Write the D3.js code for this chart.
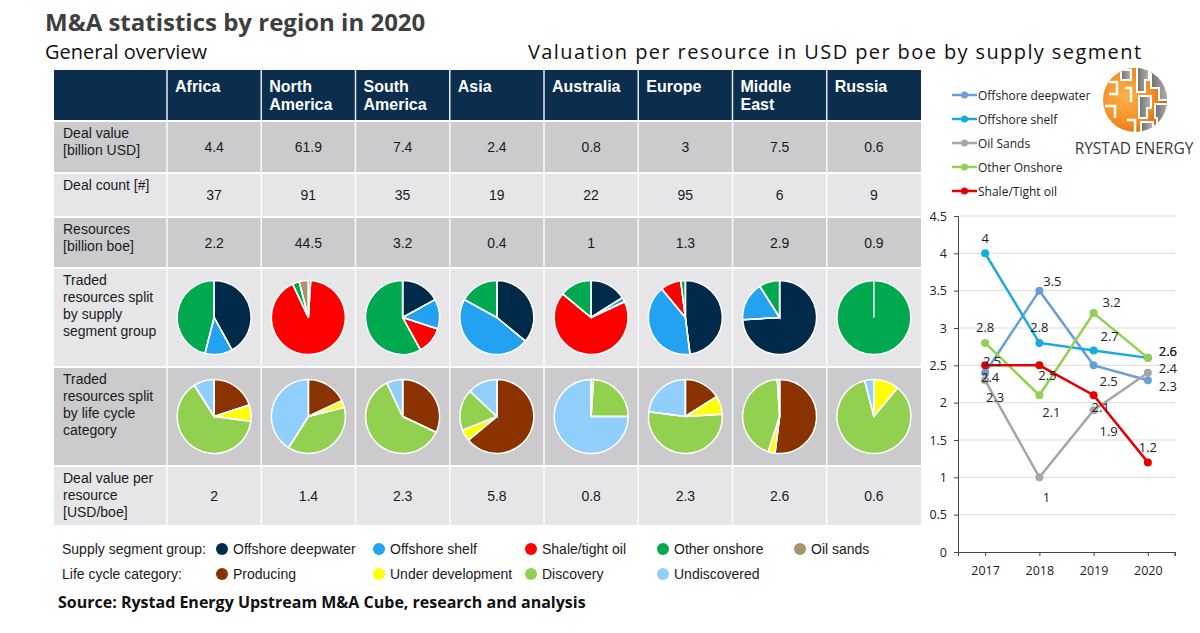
<!DOCTYPE html>
<html>
<head>
<meta charset="utf-8">
<script src="https://cdn.jsdelivr.net/npm/d3@7"></script>
<style>
  body { margin: 0; background: #fff; }
  svg { display: block; }
</style>
</head>
<body>
<div id="chart"></div>
<script>
// table data
const regions = ["Africa", "North America", "South America", "Asia", "Australia", "Europe", "Middle East", "Russia"];
const dealValue = [4.4, 61.9, 7.4, 2.4, 0.8, 3, 7.5, 0.6];
const dealCount = [37, 91, 35, 19, 22, 95, 6, 9];
const resources = [2.2, 44.5, 3.2, 0.4, 1, 1.3, 2.9, 0.9];
const valuePerResource = [2, 1.4, 2.3, 5.8, 0.8, 2.3, 2.6, 0.6];

// pie splits (% of traded resources), order follows the legend
const segmentGroups = ["Offshore deepwater", "Offshore shelf", "Shale/tight oil", "Other onshore", "Oil sands"];
const segmentSplit = [
  [42, 12, 0, 46, 0],
  [1, 0, 92, 3, 4],
  [17, 13, 12, 58, 0],
  [36, 47, 0, 17, 0],
  [16, 2, 68, 14, 0],
  [48, 41, 9, 2, 0],
  [74, 17, 0, 9, 0],
  [0, 0, 0, 100, 0]
];
const lifeCycle = ["Producing", "Under development", "Discovery", "Undiscovered"];
const lifeCycleSplit = [
  [20, 7, 64, 9],
  [18, 3, 38, 41],
  [32, 0, 61, 7],
  [64, 5, 18, 13],
  [1, 0, 24, 75],
  [16, 8, 53, 23],
  [52, 3, 44, 1],
  [0, 11, 85, 4]
];

// line chart data: USD per boe
const years = ["2017", "2018", "2019", "2020"];
const seriesNames = ["Offshore deepwater", "Offshore shelf", "Oil Sands", "Other Onshore", "Shale/Tight oil"];
const offshoreDeepwater = [2.4, 3.5, 2.5, 2.3];
const offshoreShelf = [4, 2.8, 2.7, 2.6];
const oilSands = [2.3, 1, 1.9, 2.4];
const otherOnshore = [2.8, 2.1, 3.2, 2.6];
const shaleTight = [2.5, 2.5, 2.1, 1.2];
const yTicks = [0, 0.5, 1, 1.5, 2, 2.5, 3, 3.5, 4, 4.5];

// ---------- styling ----------
const segColors = ["#002a4a", "#22a2f0", "#ff0000", "#00a84f", "#a89467"];
const lifeColors = ["#8b3300", "#ffff00", "#92d050", "#90cffc"];
const lineColors = ["#6a9fd6", "#16aae2", "#a6a6a6", "#92d050", "#e60000"];
// label offsets (dx, dy) from each point, per series
const labelOffsets = [
  [[5, 5], [13, -9], [15, 16], [20, 6]],
  [[0, -15], [0, -15], [16, -14], [20, -6]],
  [[10, 17], [7, 20], [15, 21], [20, -4]],
  [[0, -15], [12, 17], [18, -11], [20, -6]],
  [[7, -4], [8, 10], [7, 12], [0, -15]]
];

const svg = d3.select("#chart").append("svg")
  .attr("width", 1200)
  .attr("height", 633)
  .style("font-family", "'Liberation Sans', Arial, sans-serif");

// titles
svg.append("text")
  .attr("x", 45).attr("y", 31)
  .style("font-family", "'Open Sans', sans-serif")
  .style("font-weight", 700).style("font-size", "24px")
  .attr("fill", "#3f3f3f")
  .text("M&A statistics by region in 2020");

svg.append("text")
  .attr("x", 45).attr("y", 59)
  .style("font-family", "'Open Sans', sans-serif")
  .style("font-size", "20px").attr("fill", "#111")
  .text("General overview");

svg.append("text")
  .attr("x", 528).attr("y", 59)
  .style("font-family", "'Open Sans', sans-serif")
  .style("font-size", "20px").style("letter-spacing", "1.4px").attr("fill", "#111")
  .text("Valuation per resource in USD per boe by supply segment");

// ---------- table ----------
const tableLeft = 54, firstColRight = 167, tableRight = 921;
const x = d3.scaleBand().domain(regions).range([firstColRight, tableRight]);

const rowEdges = [70, 121, 173, 217, 268, 367, 466, 525];
const rowFill = ["#0b2d4e", "#cbcbcd", "#e6e6e8", "#cbcbcd", "#e6e6e8", "#cbcbcd", "#e6e6e8"];
const rowLabels = [
  [],
  ["Deal value", "[billion USD]"],
  ["Deal count [#]"],
  ["Resources", "[billion boe]"],
  ["Traded", "resources split", "by supply", "segment group"],
  ["Traded", "resources split", "by life cycle", "category"],
  ["Deal value per", "resource", "[USD/boe]"]
];

const table = svg.append("g");

rowFill.forEach((fill, r) => {
  const y0 = rowEdges[r], y1 = rowEdges[r + 1];
  table.append("rect")
    .attr("x", tableLeft).attr("y", y0)
    .attr("width", tableRight - tableLeft).attr("height", y1 - y0)
    .attr("fill", fill);
  const lbl = table.append("text")
    .attr("x", 63).attr("y", y0 + 17)
    .attr("fill", "#1a1a1a")
    .style("font-size", "14px");
  rowLabels[r].forEach((line, i) => {
    lbl.append("tspan").attr("x", 63).attr("dy", i === 0 ? 0 : 17).text(line);
  });
});

// white separators
rowEdges.slice(1, -1).forEach(y => {
  table.append("line")
    .attr("x1", tableLeft).attr("x2", tableRight)
    .attr("y1", y).attr("y2", y)
    .attr("stroke", "#fff").attr("stroke-width", 2);
});
[firstColRight].concat(regions.slice(1).map(d => x(d))).forEach(xv => {
  table.append("line")
    .attr("x1", xv).attr("x2", xv)
    .attr("y1", rowEdges[0]).attr("y2", rowEdges[rowEdges.length - 1])
    .attr("stroke", "#fff").attr("stroke-width", 1.5)
    .attr("opacity", 0.9);
});

// header
regions.forEach(reg => {
  const t = table.append("text")
    .attr("x", x(reg) + 8).attr("y", 92)
    .attr("fill", "#fff")
    .style("font-size", "16px").style("font-weight", 700);
  reg.split(" ").forEach((w, i) => {
    t.append("tspan").attr("x", x(reg) + 8).attr("dy", i === 0 ? 0 : 18).text(w);
  });
});

// numeric rows
const numericRows = [[1, dealValue], [2, dealCount], [3, resources], [6, valuePerResource]];
numericRows.forEach(([r, vals]) => {
  const cy = (rowEdges[r] + rowEdges[r + 1]) / 2;
  table.selectAll(null)
    .data(vals)
    .enter()
    .append("text")
    .attr("x", (d, i) => x(regions[i]) + x.bandwidth() / 2)
    .attr("y", cy + 5)
    .attr("text-anchor", "middle")
    .attr("fill", "#1a1a1a")
    .style("font-size", "14px")
    .text(d => d);
});

// pies
const pie = d3.pie().sort(null).value(d => d);
const arc = d3.arc().innerRadius(0).outerRadius(37);

function drawPies(r, splits, colors) {
  const cy = (rowEdges[r] + rowEdges[r + 1]) / 2;
  splits.forEach((vals, i) => {
    const g = table.append("g")
      .attr("transform", `translate(${x(regions[i]) + x.bandwidth() / 2},${cy})`);
    const arcs = pie(vals).filter(d => d.value > 0);
    g.selectAll("path")
      .data(arcs)
      .enter()
      .append("path")
      .attr("d", arc)
      .attr("fill", d => colors[d.index])
      .attr("stroke", "#fff")
      .attr("stroke-width", 1.5);
    // radial edge where the slices start
    g.selectAll("line")
      .data(arcs)
      .enter()
      .append("line")
      .attr("x1", 0).attr("y1", 0)
      .attr("x2", d => 37 * Math.sin(d.startAngle))
      .attr("y2", d => -37 * Math.cos(d.startAngle))
      .attr("stroke", "#fff").attr("stroke-width", 1.5);
  });
}
drawPies(4, segmentSplit, segColors);
drawPies(5, lifeCycleSplit, lifeColors);

// ---------- table legend ----------
const legendCols = [222, 379, 531, 663, 800];
const legendRows = [
  { title: "Supply segment group:", names: segmentGroups, colors: segColors, y: 549 },
  { title: "Life cycle category:", names: lifeCycle, colors: lifeColors, y: 574 }
];
legendRows.forEach(row => {
  svg.append("text")
    .attr("x", 62).attr("y", row.y + 5)
    .attr("fill", "#1a1a1a").style("font-size", "14px")
    .text(row.title);
  row.names.forEach((name, i) => {
    const lx = legendCols[i];
    svg.append("circle")
      .attr("cx", lx).attr("cy", row.y)
      .attr("r", 6).attr("fill", row.colors[i]);
    svg.append("text")
      .attr("x", lx + 11).attr("y", row.y + 5)
      .attr("fill", "#1a1a1a").style("font-size", "14px")
      .text(name);
  });
});

svg.append("text")
  .attr("x", 58).attr("y", 608)
  .style("font-family", "'Open Sans', sans-serif")
  .style("font-weight", 700).style("font-size", "16px")
  .attr("fill", "#111")
  .text("Source: Rystad Energy Upstream M&A Cube, research and analysis");

// ---------- line chart ----------
const lx = d3.scalePoint().domain(years).range([958, 1175]).padding(0.5);
const ly = d3.scaleLinear().domain([0, 4.5]).range([552, 216]);
const seriesValues = [offshoreDeepwater, offshoreShelf, oilSands, otherOnshore, shaleTight];

const lc = svg.append("g")
  .style("font-family", "'Open Sans', sans-serif")
  .style("font-size", "12px");

lc.append("g")
  .selectAll("line")
  .data(yTicks.slice(1))
  .enter()
  .append("line")
  .attr("x1", 958).attr("x2", 1175)
  .attr("y1", d => ly(d)).attr("y2", d => ly(d))
  .attr("stroke", "#d9d9d9");

const yAxis = lc.append("g")
  .attr("transform", "translate(958,0)")
  .call(d3.axisLeft(ly).tickValues(yTicks).tickSize(4).tickPadding(7).tickFormat(d => d));
const xAxis = lc.append("g")
  .attr("transform", "translate(0,552)")
  .call(d3.axisBottom(lx).tickSize(4).tickPadding(10));
[yAxis, xAxis].forEach(a => {
  a.selectAll("path,line").attr("stroke", "#444");
  a.selectAll("text").attr("fill", "#222").style("font-family", "'Open Sans', sans-serif").style("font-size", "12.5px");
});
// right end tick on the category axis
xAxis.append("line").attr("x1", 1175).attr("x2", 1175).attr("y1", 0).attr("y2", 4).attr("stroke", "#444");

const line = d3.line().x((d, i) => lx(years[i])).y(d => ly(d));

seriesValues.forEach((vals, s) => {
  lc.append("path")
    .datum(vals)
    .attr("d", line)
    .attr("fill", "none")
    .attr("stroke", lineColors[s])
    .attr("stroke-width", 2.5);
  lc.selectAll(null)
    .data(vals)
    .enter()
    .append("circle")
    .attr("cx", (d, i) => lx(years[i]))
    .attr("cy", d => ly(d))
    .attr("r", 4)
    .attr("fill", lineColors[s]);
});
seriesValues.forEach((vals, s) => {
  lc.selectAll(null)
    .data(vals)
    .enter()
    .append("text")
    .attr("x", (d, i) => lx(years[i]) + labelOffsets[s][i][0])
    .attr("y", (d, i) => ly(d) + labelOffsets[s][i][1])
    .attr("dy", "0.35em")
    .attr("text-anchor", "middle")
    .attr("fill", "#222")
    .style("font-size", "13px")
    .text(d => d);
});

// line chart legend
seriesNames.forEach((name, s) => {
  const y = 95 + s * 24;
  lc.append("line")
    .attr("x1", 952).attr("x2", 977)
    .attr("y1", y).attr("y2", y)
    .attr("stroke", lineColors[s]).attr("stroke-width", 2.5);
  lc.append("circle").attr("cx", 964.5).attr("cy", y).attr("r", 3.5).attr("fill", lineColors[s]);
  lc.append("text")
    .attr("x", 978).attr("y", y + 4.5)
    .attr("fill", "#222")
    .text(name);
});

// ---------- logo ----------
const defs = svg.append("defs");
const grad = defs.append("radialGradient").attr("id", "orb").attr("cx", "35%").attr("cy", "45%").attr("r", "70%");
grad.append("stop").attr("offset", "0%").attr("stop-color", "#fdb24a");
grad.append("stop").attr("offset", "65%").attr("stop-color", "#f28a1e");
grad.append("stop").attr("offset", "100%").attr("stop-color", "#c9580a");
const ggrad = defs.append("linearGradient").attr("id", "greyPiece").attr("x1", "0").attr("x2", "1");
ggrad.append("stop").attr("offset", "0%").attr("stop-color", "#6f6f6f");
ggrad.append("stop").attr("offset", "100%").attr("stop-color", "#b5b5b5");
defs.append("clipPath").attr("id", "orbClip").append("circle").attr("r", 32);

const logo = svg.append("g").attr("transform", "translate(1135,100)");
logo.append("circle").attr("r", 32).attr("fill", "url(#orb)");
const tiles = logo.append("g").attr("clip-path", "url(#orbClip)");
// grey jigsaw pieces on the right half
const greyPieces = [
  "M2,-34 L14,-34 L14,-20 L10,-20 L10,-8 L2,-8 Z",
  "M16,-30 L34,-30 L34,0 L24,0 L24,-12 L16,-12 Z",
  "M4,-4 L16,-4 L16,8 L12,8 L12,18 L4,18 Z",
  "M20,4 L34,4 L34,30 L22,30 L22,18 L20,18 Z",
  "M6,22 L18,22 L18,36 L6,36 Z",
  "M-14,-30 L-4,-30 L-4,-20 L-14,-20 Z"
];
greyPieces.forEach(p => {
  tiles.append("path").attr("d", p).attr("fill", "url(#greyPiece)")
    .attr("stroke", "#fff").attr("stroke-width", 2);
});
// white cracks on the orange side
["M-26,-18 L-18,-18 L-18,-6 L-26,-6", "M-30,6 L-20,6 L-20,18", "M-10,-12 L-4,-12 L-4,2", "M-8,20 L0,20 L0,32"].forEach(p => {
  tiles.append("path").attr("d", p).attr("fill", "none")
    .attr("stroke", "#fff").attr("stroke-width", 2.5);
});

svg.append("text")
  .attr("x", 1134).attr("y", 154)
  .attr("text-anchor", "middle")
  .style("font-family", "'Open Sans', sans-serif")
  .style("font-size", "15.5px")
  .attr("fill", "#3a3a3a")
  .text("RYSTAD ENERGY");
</script>
</body>
</html>
